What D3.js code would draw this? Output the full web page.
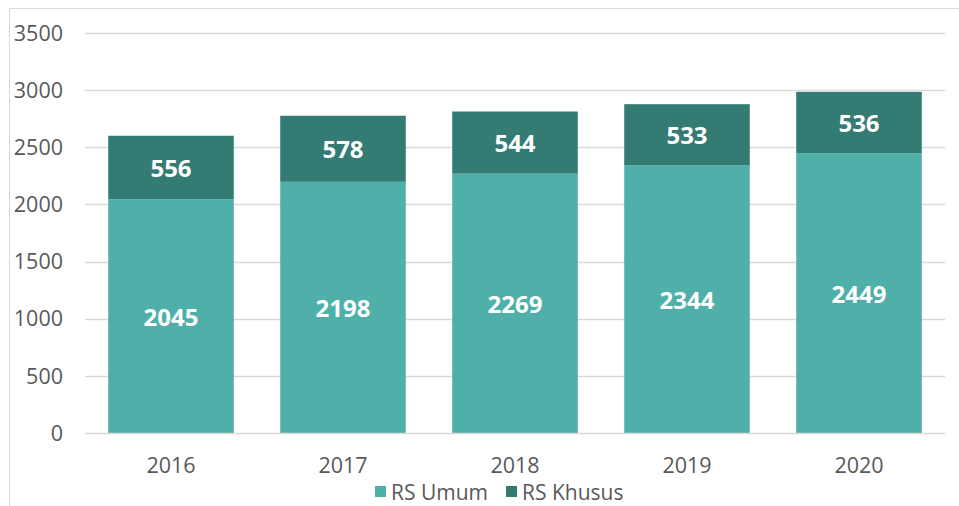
<!DOCTYPE html>
<html><head><meta charset="utf-8">
<script src="https://cdn.jsdelivr.net/npm/d3@7"></script>
<style>body{margin:0;background:#fff;font-family:"Open Sans",sans-serif;}</style>
</head><body>
<svg id="c" width="959" height="506"></svg>
<script>
const years = ["2016","2017","2018","2019","2020"];
const rsUmum = [2045, 2198, 2269, 2344, 2449];
const rsKhusus = [556, 578, 544, 533, 536];
const yTicks = [0,500,1000,1500,2000,2500,3000,3500];
const seriesNames = ["RS Umum","RS Khusus"];
const colors = ["#4FAFA9","#347B74"];

const svg = d3.select("#c");
// frame
svg.append("line").attr("x1",9.5).attr("x2",9.5).attr("y1",8).attr("y2",506).attr("stroke","#d9d9d9");
svg.append("line").attr("x1",9).attr("x2",959).attr("y1",8.5).attr("y2",8.5).attr("stroke","#d9d9d9");

const x = d3.scaleBand().domain(years).range([85,945]).paddingInner(0.27).paddingOuter(0.135);
const y = d3.scaleLinear().domain([0,3500]).range([433,33]);

// gridlines
svg.append("g").selectAll("line").data(yTicks.slice(1)).join("line")
  .attr("x1",85).attr("x2",945).attr("y1",d=>Math.round(y(d))+0.5).attr("y2",d=>Math.round(y(d))+0.5)
  .attr("stroke","#d9d9d9").attr("stroke-width",1.5);

const data = years.map((yr,i)=>({year:yr, umum:rsUmum[i], khusus:rsKhusus[i]}));
const stack = d3.stack().keys(["umum","khusus"])(data);

stack.forEach((s,si)=>{
  svg.append("g").selectAll("rect").data(s).join("rect")
    .attr("x",d=>x(d.data.year)).attr("width",x.bandwidth())
    .attr("y",d=>y(d[1])).attr("height",d=>y(d[0])-y(d[1]))
    .attr("fill",colors[si]);
  svg.append("g").selectAll("text").data(s).join("text")
    .attr("x",d=>x(d.data.year)+x.bandwidth()/2)
    .attr("y",d=>y((d[0]+d[1])/2)+1)
    .attr("dy","0.36em").attr("text-anchor","middle")
    .attr("fill","#fff").attr("font-weight","bold").attr("font-size",24)
    .text(d=>d[1]-d[0]);
});

// baseline
svg.append("line").attr("x1",85).attr("x2",945).attr("y1",433.5).attr("y2",433.5).attr("stroke","#d9d9d9").attr("stroke-width",1.5);

// y axis labels
svg.append("g").selectAll("text").data(yTicks).join("text")
  .attr("x",63).attr("y",d=>y(d)).attr("dy","0.36em").attr("text-anchor","end")
  .attr("fill","#595959").attr("font-size",21.5).text(d=>d);

// x axis labels
svg.append("g").selectAll("text").data(years).join("text")
  .attr("x",d=>x(d)+x.bandwidth()/2).attr("y",465).attr("dy","0.36em").attr("text-anchor","middle")
  .attr("fill","#595959").attr("font-size",21.5).text(d=>d);

// legend
const leg = svg.append("g");
const lx = [375, 506];
seriesNames.forEach((n,i)=>{
  leg.append("rect").attr("x",lx[i]).attr("y",486).attr("width",11).attr("height",11).attr("fill",colors[i]);
  leg.append("text").attr("x",lx[i]+16).attr("y",492).attr("dy","0.36em").attr("fill","#595959").attr("font-size",21).text(n);
});
</script>
</body></html>
